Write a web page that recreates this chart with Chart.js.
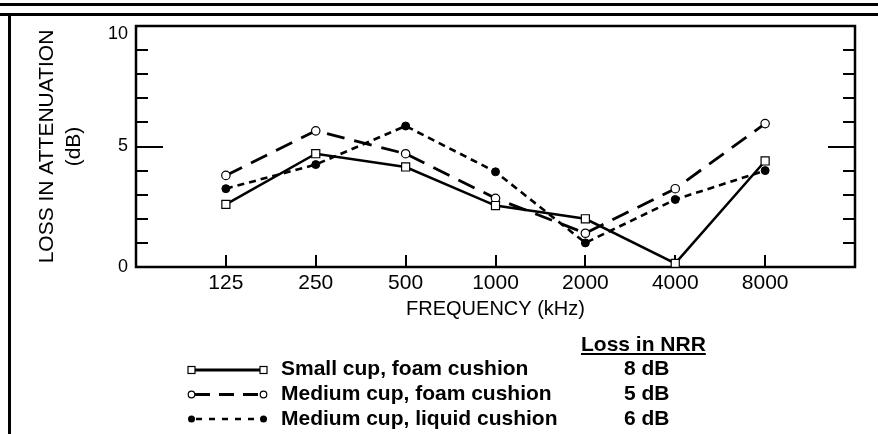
<!DOCTYPE html>
<html><head><meta charset="utf-8">
<script src="https://cdn.jsdelivr.net/npm/chart.js@4"></script>
<style>
html,body{margin:0;padding:0;background:#fff;}
#wrap{position:relative;width:878px;height:434px;overflow:hidden;font-family:"Liberation Sans",Arial,sans-serif;background:#fff;}
canvas{position:absolute;left:0;top:0;}
.rule{position:absolute;background:#000;}
.leg{position:absolute;font-weight:bold;font-size:21px;line-height:24px;white-space:nowrap;color:#000;}
svg{position:absolute;left:0;top:0;}
</style></head>
<body><div id="wrap">
<canvas id="c" width="878" height="434"></canvas>
<div class="rule" style="left:0;top:3px;width:878px;height:3px"></div>
<div class="rule" style="left:0;top:13px;width:878px;height:3px"></div>
<div class="rule" style="left:8px;top:13px;width:2.5px;height:421px"></div>
<svg width="878" height="434" viewBox="0 0 878 434">
  <line x1="195" y1="370" x2="260" y2="370" stroke="#000" stroke-width="3"/>
  <rect x="188" y="366.5" width="7" height="7" fill="#fff" stroke="#000" stroke-width="1.2"/>
  <rect x="260" y="366.5" width="7" height="7" fill="#fff" stroke="#000" stroke-width="1.2"/>
  <line x1="195" y1="394.5" x2="260" y2="394.5" stroke="#000" stroke-width="3" stroke-dasharray="15 9"/>
  <circle cx="191.5" cy="394.5" r="3.3" fill="#fff" stroke="#000" stroke-width="1.2"/>
  <circle cx="263.5" cy="394.5" r="3.3" fill="#fff" stroke="#000" stroke-width="1.2"/>
  <line x1="196" y1="419" x2="259" y2="419" stroke="#000" stroke-width="2.5" stroke-dasharray="6 7"/>
  <circle cx="191.5" cy="419" r="3.5" fill="#000"/>
  <circle cx="263.5" cy="419" r="3.5" fill="#000"/>
</svg>
<div class="leg" style="left:581px;top:332px;text-decoration:underline;text-decoration-thickness:2px;text-underline-offset:2px">Loss in NRR</div>
<div class="leg" style="left:281px;top:356px">Small cup, foam cushion</div>
<div class="leg" style="left:281px;top:381px">Medium cup, foam cushion</div>
<div class="leg" style="left:281px;top:406px">Medium cup, liquid cushion</div>
<div class="leg" style="left:624px;top:356px">8 dB</div>
<div class="leg" style="left:624px;top:381px">5 dB</div>
<div class="leg" style="left:624px;top:406px">6 dB</div>
</div>
<script>
const categories = ['125', '250', '500', '1000', '2000', '4000', '8000'];
const smallCupFoam = [2.6, 4.7, 4.15, 2.55, 2.0, 0.15, 4.4];
const mediumCupFoam = [3.8, 5.65, 4.7, 2.85, 1.4, 3.25, 5.95];
const mediumCupLiquid = [3.25, 4.25, 5.85, 3.95, 1.0, 2.8, 4.0];
const yLabeledTicks = [0, 5, 10];

const FONT = "'Liberation Sans', Arial, sans-serif";
const pts = arr => categories.map((c, i) => ({x: i, y: arr[i]}));

const decor = {
  id: 'decor',
  beforeDatasetsDraw(chart) {
    const ctx = chart.ctx, ca = chart.chartArea, xs = chart.scales.x, ys = chart.scales.y;
    ctx.save();
    ctx.strokeStyle = '#000';
    ctx.lineWidth = 2;
    const seg = (x1, y1, x2, y2) => { ctx.beginPath(); ctx.moveTo(x1, y1); ctx.lineTo(x2, y2); ctx.stroke(); };
    ys.ticks.forEach(t => {
      if (t.value <= ys.min || t.value >= ys.max) return;
      const py = Math.round(ys.getPixelForValue(t.value));
      const len = yLabeledTicks.includes(t.value) ? 27 : 12;
      seg(ca.left, py, ca.left + len, py);
      seg(ca.right - len, py, ca.right, py);
    });
    categories.forEach((c, i) => {
      const px = Math.round(xs.getPixelForValue(i));
      seg(px, ca.bottom, px, ca.bottom - 12);
    });
    ctx.lineWidth = 2.5;
    ctx.strokeRect(ca.left, ca.top, ca.right - ca.left, ca.bottom - ca.top);
    ctx.restore();
  }
};

new Chart(document.getElementById('c'), {
  type: 'line',
  data: {
    datasets: [
      {label: 'Small cup, foam cushion', data: pts(smallCupFoam), borderColor: '#000', borderWidth: 2.5,
       pointStyle: 'rect', pointRadius: 5.7, pointBackgroundColor: '#fff', pointBorderColor: '#000', pointBorderWidth: 1.2, clip: false},
      {label: 'Medium cup, foam cushion', data: pts(mediumCupFoam), borderColor: '#000', borderWidth: 2.8, borderDash: [18, 10],
       pointStyle: 'circle', pointRadius: 4.2, pointBackgroundColor: '#fff', pointBorderColor: '#000', pointBorderWidth: 1.2, clip: false},
      {label: 'Medium cup, liquid cushion', data: pts(mediumCupLiquid), borderColor: '#000', borderWidth: 2.6, borderDash: [7, 5],
       pointStyle: 'circle', pointRadius: 4, pointBackgroundColor: '#000', pointBorderColor: '#000', pointBorderWidth: 1, clip: false}
    ]
  },
  options: {
    responsive: false,
    animation: false,
    events: [],
    layout: {padding: {top: 26, right: 23, bottom: 107, left: 0}},
    plugins: {legend: {display: false}, tooltip: {enabled: false}},
    elements: {line: {tension: 0}},
    scales: {
      x: {
        type: 'linear', min: -1, max: 7,
        grid: {display: false, drawTicks: false}, border: {display: false},
        ticks: {stepSize: 1, autoSkip: false, maxRotation: 0, padding: 4, color: '#000',
                font: {family: FONT, size: 21},
                callback: v => (categories[v] !== undefined ? categories[v] : '')},
        title: {display: true, text: 'FREQUENCY (kHz)', color: '#000', font: {family: FONT, size: 20}, padding: {top: 0, bottom: 6}},
        afterFit: s => { s.height = 60; }
      },
      y: {
        min: 0, max: 10,
        grid: {display: false, drawTicks: false}, border: {display: false},
        ticks: {stepSize: 1, autoSkip: false, maxTicksLimit: 20, padding: 8, color: '#000', font: {family: FONT, size: 18, lineHeight: 0.9},
                callback: v => (v === 10 ? ['', '10'] : (yLabeledTicks.includes(v) ? String(v) : ''))},
        title: {display: true, text: ['LOSS IN ATTENUATION', '(dB)'], color: '#000',
                font: {family: FONT, size: 21, lineHeight: 1.31}, padding: {top: 33, bottom: 0}},
        afterFit: s => { s.width = 136; }
      }
    }
  },
  plugins: [decor]
});
</script>
</body></html>
